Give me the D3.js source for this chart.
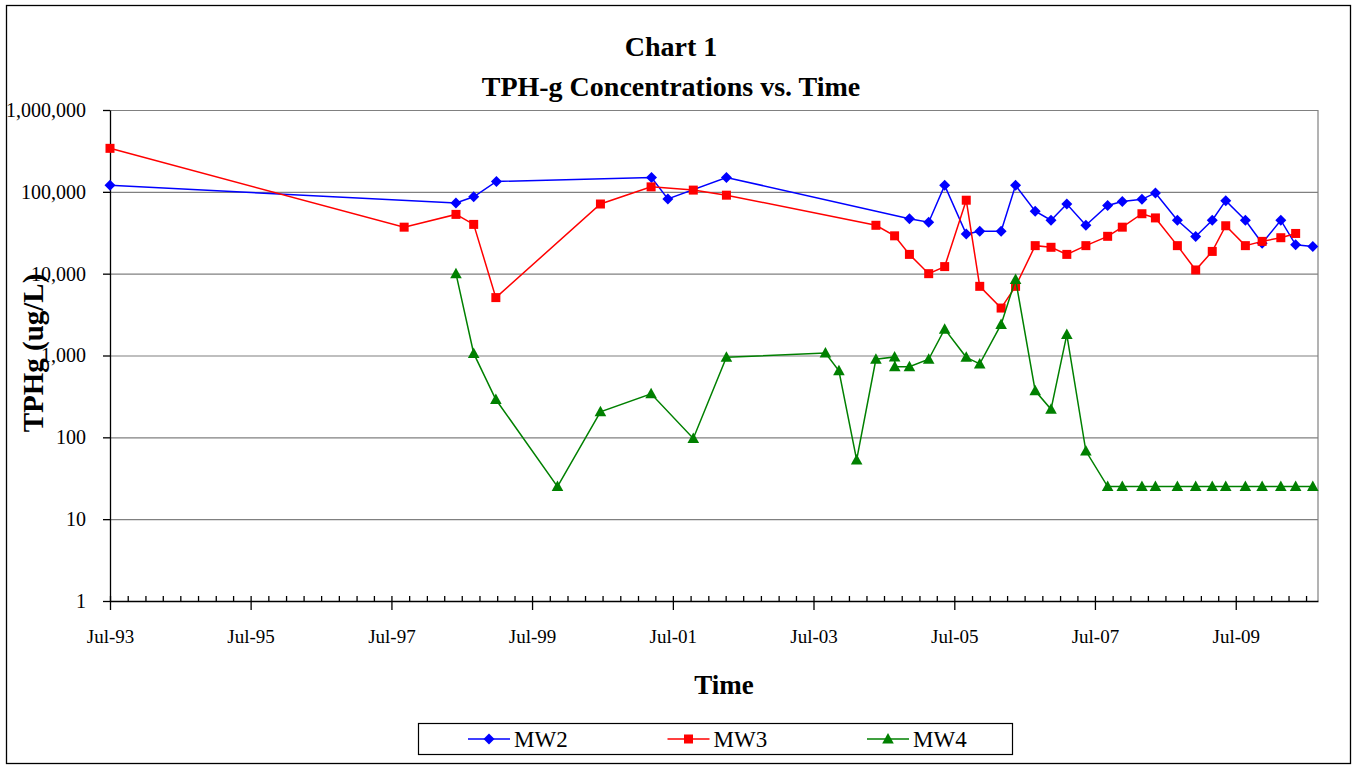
<!DOCTYPE html>
<html>
<head>
<meta charset="utf-8">
<script src="https://cdn.jsdelivr.net/npm/d3@7"></script>
<style>
  body { margin: 0; background: #fff; }
  svg { display: block; font-family: "Liberation Serif", "Times New Roman", serif; }
</style>
</head>
<body>
<svg id="chart" width="1355" height="766"></svg>
<script>
// values (ug/L)
var mw2Dates = ["1993-07-01","1998-06-01","1998-09-01","1998-12-28","2001-03-12","2001-06-05","2002-04-05",
  "2004-11-10","2005-02-18","2005-05-12","2005-09-01","2005-11-10","2006-03-01","2006-05-15","2006-08-25",
  "2006-11-15","2007-02-05","2007-05-15","2007-09-05","2007-11-20","2008-03-01","2008-05-10","2008-09-01",
  "2008-12-05","2009-03-01","2009-05-10","2009-08-20","2009-11-15","2010-02-20","2010-05-08","2010-08-05"];
var mw2Values = [120000,73000,87000,134000,150000,82000,150000,
  47000,42500,120000,30500,33000,33000,120000,58000,
  45000,71000,39000,68000,76000,81000,97000,45000,
  28500,45000,78000,45000,23500,45000,22500,21500];

var mw3Dates = ["1993-07-01","1997-09-05","1998-06-01","1998-09-01","1998-12-25","2000-06-20","2001-03-10",
  "2001-10-15","2002-04-05","2004-05-20","2004-08-25","2004-11-10","2005-02-18","2005-05-12","2005-09-01",
  "2005-11-10","2006-03-01","2006-05-15","2006-08-25","2006-11-15","2007-02-05","2007-05-15","2007-09-05",
  "2007-11-20","2008-03-01","2008-05-10","2008-09-01","2008-12-05","2009-03-01","2009-05-10","2009-08-20",
  "2009-11-15","2010-02-20","2010-05-08"];
var mw3Values = [340000,37000,53000,40000,5100,71000,115000,
  105000,91000,39000,29000,17200,10000,12200,79000,
  7000,3800,7000,22000,21000,17200,22000,28600,
  37000,54000,48000,22000,11100,18700,38500,22000,
  24800,27500,31000];

var mw4Dates = ["1998-06-01","1998-09-01","1998-12-25","1999-11-10","2000-06-20","2001-03-10","2001-10-15",
  "2002-04-05","2003-09-01","2003-11-10","2004-02-10","2004-05-20","2004-08-25","2004-08-26","2004-11-10",
  "2005-02-18","2005-05-12","2005-09-01","2005-11-10","2006-03-01","2006-05-15","2006-08-25","2006-11-15",
  "2007-02-05","2007-05-15","2007-09-05","2007-11-20","2008-03-01","2008-05-10","2008-09-01","2008-12-05",
  "2009-03-01","2009-05-10","2009-08-20","2009-11-15","2010-02-20","2010-05-08","2010-08-05"];
var mw4Values = [10000,1060,290,25,205,340,97,
  950,1070,650,53,900,960,730,730,
  900,2100,950,790,2400,8500,370,220,
  1800,68,25,25,25,25,25,25,
  25,25,25,25,25,25,25];

var yTicks = [1,10,100,1000,10000,100000,1000000];
var seriesNames = ["MW2","MW3","MW4"];
var seriesColors = ["#0000ff","#ff0000","#008000"];

var parse = d3.timeParse("%Y-%m-%d");
var series = [
  {name: seriesNames[0], color: seriesColors[0], shape: "diamond", pts: mw2Dates.map(function(d,i){ return [parse(d), mw2Values[i]]; })},
  {name: seriesNames[1], color: seriesColors[1], shape: "square", pts: mw3Dates.map(function(d,i){ return [parse(d), mw3Values[i]]; })},
  {name: seriesNames[2], color: seriesColors[2], shape: "triangle", pts: mw4Dates.map(function(d,i){ return [parse(d), mw4Values[i]]; })}
];

var svg = d3.select("#chart");
var L = 110, R = 1318, T = 110, B = 601;
var start = new Date(1993, 6, 1), end = new Date(2010, 8, 1);
var x = d3.scaleTime().domain([start, end]).range([L, R]);
var y = d3.scaleLog().domain([1, 1e6]).range([B, T]);
var serif = "Liberation Serif, Times New Roman, serif";

// outer frame
svg.append("rect").attr("x", 6.5).attr("y", 5.5).attr("width", 1344).attr("height", 758)
  .attr("fill", "none").attr("stroke", "#000").attr("stroke-width", 1.3);

// titles
svg.append("text").attr("x", 671).attr("y", 56).attr("text-anchor", "middle")
  .attr("font-size", 28).attr("font-weight", "bold").text("Chart 1");
svg.append("text").attr("x", 671).attr("y", 96).attr("text-anchor", "middle")
  .attr("font-size", 28).attr("font-weight", "bold").text("TPH-g Concentrations vs. Time");

// grid lines
svg.append("g").attr("transform", "translate(" + L + ",0)")
  .call(d3.axisLeft(y).tickValues(yTicks.slice(1)).tickSize(-(R - L)).tickFormat(""))
  .call(function(g){ g.select(".domain").remove(); g.selectAll("line").attr("stroke", "#808080").attr("stroke-width", 1.2); });

// plot border right
svg.append("line").attr("x1", R).attr("x2", R).attr("y1", T).attr("y2", B)
  .attr("stroke", "#808080").attr("stroke-width", 1.2);

// y axis
var yAxis = svg.append("g").attr("transform", "translate(" + L + ",0)")
  .call(d3.axisLeft(y).tickValues(yTicks).tickFormat(d3.format(",")).tickSize(7).tickSizeOuter(0).tickPadding(17));
yAxis.select(".domain").attr("stroke", "#000").attr("stroke-width", 1.3);
yAxis.selectAll("line").attr("stroke", "#000").attr("stroke-width", 1.3);
yAxis.selectAll("text").attr("font-size", 20).attr("font-family", serif).attr("fill", "#000");

// x axis: minor every 3 months, major every 24 months
var minor = d3.range(0, 69).map(function(i){ return d3.timeMonth.offset(start, 3 * i); }).filter(function(d){ return d <= end; });
var major = d3.range(0, 9).map(function(i){ return d3.timeMonth.offset(start, 24 * i); });
var xMinor = svg.append("g").attr("transform", "translate(0," + B + ")")
  .call(d3.axisBottom(x).tickValues(minor).tickSize(-5).tickSizeOuter(0).tickFormat(""));
xMinor.select(".domain").attr("stroke", "#000").attr("stroke-width", 1.3);
xMinor.selectAll("line").attr("stroke", "#000").attr("stroke-width", 1.3);
var xMajor = svg.append("g").attr("transform", "translate(0," + B + ")")
  .call(d3.axisBottom(x).tickValues(major).tickSize(9).tickSizeOuter(0).tickPadding(20).tickFormat(d3.timeFormat("%b-%y")));
xMajor.select(".domain").remove();
xMajor.selectAll("line").attr("stroke", "#000").attr("stroke-width", 1.3);
xMajor.selectAll("text").attr("font-size", 19).attr("font-family", serif).attr("fill", "#000");

// axis titles
svg.append("text").attr("x", 724).attr("y", 694).attr("text-anchor", "middle")
  .attr("font-size", 27).attr("font-weight", "bold").text("Time");
svg.append("text").attr("transform", "translate(43,353) rotate(-90)").attr("text-anchor", "middle")
  .attr("font-size", 29).attr("font-weight", "bold").text("TPHg (ug/L)");

// markers
function marker(sel, shape, color) {
  if (shape === "diamond") sel.append("path").attr("d", "M0,-5.5L5.5,0L0,5.5L-5.5,0Z").attr("fill", color);
  else if (shape === "square") sel.append("rect").attr("x", -4.5).attr("y", -4.5).attr("width", 9).attr("height", 9).attr("fill", color);
  else sel.append("path").attr("d", "M0,-6L5.8,4.5L-5.8,4.5Z").attr("fill", color);
}

var line = d3.line().x(function(d){ return x(d[0]); }).y(function(d){ return y(d[1]); });
series.forEach(function(s) {
  var g = svg.append("g");
  g.append("path").datum(s.pts).attr("d", line).attr("fill", "none")
    .attr("stroke", s.color).attr("stroke-width", 1.5);
  g.selectAll("g.m").data(s.pts).enter().append("g").attr("class", "m")
    .attr("transform", function(d){ return "translate(" + x(d[0]) + "," + y(d[1]) + ")"; })
    .each(function(){ marker(d3.select(this), s.shape, s.color); });
});

// legend
var lg = svg.append("g");
lg.append("rect").attr("x", 418.5).attr("y", 723.5).attr("width", 594).attr("height", 31)
  .attr("fill", "#fff").attr("stroke", "#000").attr("stroke-width", 1.2);
series.forEach(function(s, i) {
  var x0 = 468 + i * 199.5;
  lg.append("line").attr("x1", x0).attr("x2", x0 + 42).attr("y1", 739).attr("y2", 739)
    .attr("stroke", s.color).attr("stroke-width", 1.5);
  var m = lg.append("g").attr("transform", "translate(" + (x0 + 21) + ",739)");
  marker(m, s.shape, s.color);
  lg.append("text").attr("x", x0 + 46).attr("y", 747).attr("font-size", 23).attr("font-family", serif).text(s.name);
});
</script>
</body>
</html>
